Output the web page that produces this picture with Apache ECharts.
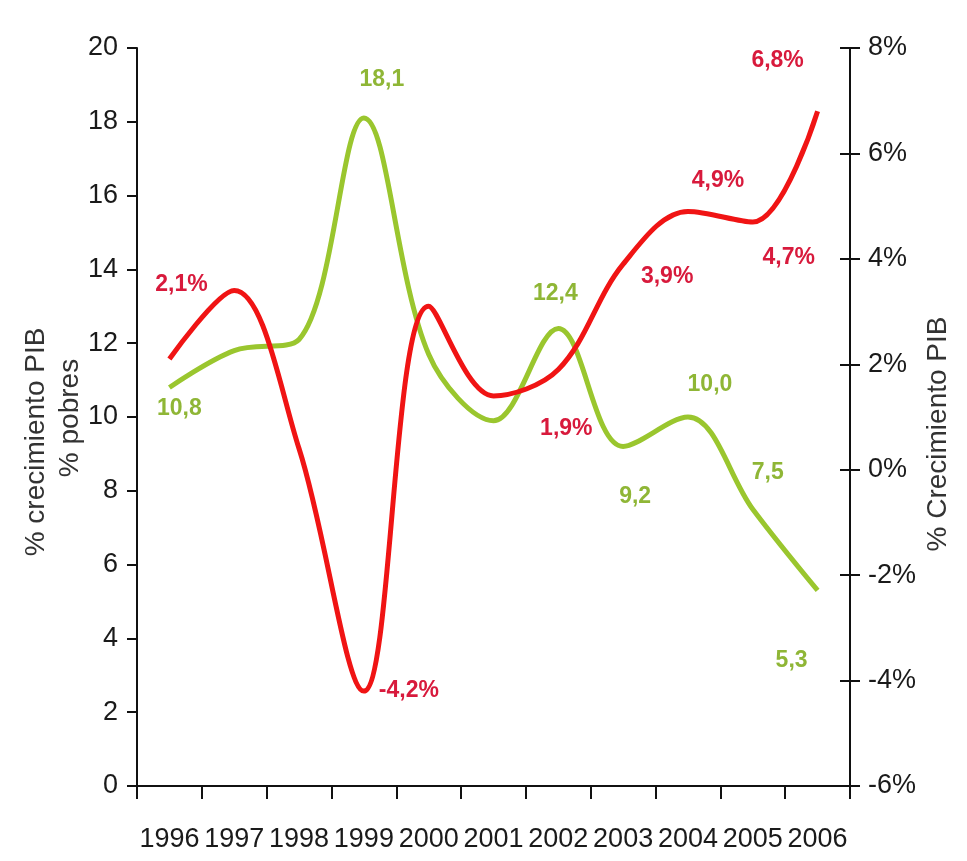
<!DOCTYPE html>
<html>
<head>
<meta charset="utf-8">
<script src="https://cdn.jsdelivr.net/npm/echarts@6/dist/echarts.min.js"></script>
<style>
html,body{margin:0;padding:0;background:#fff;}
#c{width:967px;height:861px;}
</style>
</head>
<body>
<div id="c"></div>
<script>
// ---- data ----
var years = ['1996','1997','1998','1999','2000','2001','2002','2003','2004','2005','2006'];
var pobres = [10.8, 11.8, 12.1, 18.1, 11.7, 9.9, 12.4, 9.2, 10.0, 7.5, 5.3];     // % pobres (left axis)
var pib = [2.1, 3.4, 0.4, -4.2, 3.1, 1.4, 1.9, 3.9, 4.9, 4.7, 6.8];             // % crecimiento PIB (right axis)
var leftTicks = [0, 20, 2];
var rightTicks = [-6, 8, 2];

// label placement (style only), per index: [dx, dy] or null
var greenLabelOffsets = [[10,21], null, null, [18,-38], null, null, [-3,-35], [12,50], [22,-32], [15,-37], [-26,70]];
var redLabelOffsets = [[12,-74], null, null, [45,0], null, null, [8,59], [44,13], [30,-31], [36,36], [-40,-51]];

var GREEN = '#9ac62e', GREEN_T = '#8fb636';
var RED = '#f01414', RED_T = '#d81a3c';
var FONT = '"Liberation Sans", Arial, sans-serif';

function fmt(v){ return v.toFixed(1).replace('.', ','); }

function buildData(vals, offs, color, pct){
  return vals.map(function(v, i){
    var o = offs[i];
    if(!o) return {value: v, label: {show: false}};
    return {value: v, label: {
      show: true, position: 'inside', offset: o,
      formatter: fmt(v) + (pct ? '%' : ''),
      color: color, fontFamily: FONT, fontWeight: 'bold', fontSize: 23
    }};
  });
}

var chart = echarts.init(document.getElementById('c'), null, {renderer: 'canvas'});
var axisLineStyle = {color: '#111', width: 2};
chart.setOption({
  animation: false,
  backgroundColor: '#fff',
  grid: {left: 137, right: 117, top: 48, bottom: 75, containLabel: false},
  xAxis: {
    type: 'category', data: years, boundaryGap: true,
    axisLine: {show: true, lineStyle: axisLineStyle},
    axisTick: {show: true, length: 13, interval: 0, lineStyle: {color: '#111', width: 2}},
    axisLabel: {color: '#1a1a1a', fontFamily: FONT, fontSize: 27, margin: 40, interval: 0}
  },
  yAxis: [
    {
      type: 'value', min: leftTicks[0], max: leftTicks[1], interval: leftTicks[2], position: 'left',
      axisLine: {show: true, lineStyle: axisLineStyle},
      axisTick: {show: true, length: 10, lineStyle: {color: '#111', width: 2}},
      axisLabel: {color: '#1a1a1a', fontFamily: FONT, fontSize: 27, margin: 19},
      splitLine: {show: false}
    },
    {
      type: 'value', min: rightTicks[0], max: rightTicks[1], interval: rightTicks[2], position: 'right',
      axisLine: {show: true, lineStyle: axisLineStyle},
      axisTick: {show: true, length: 10, lineStyle: {color: '#111', width: 2}},
      axisLabel: {color: '#1a1a1a', fontFamily: FONT, fontSize: 27, margin: 18, formatter: '{value}%'},
      splitLine: {show: false}
    },
    {
      type: 'value', min: rightTicks[0], max: rightTicks[1], interval: rightTicks[2], position: 'right',
      axisLine: {show: false},
      axisTick: {show: true, inside: true, length: 10, lineStyle: {color: '#111', width: 2}},
      axisLabel: {show: false},
      splitLine: {show: false}
    }
  ],
  graphic: [
    {type: 'text', x: 36, y: 442, rotation: Math.PI/2,
     style: {text: '% crecimiento PIB', fill: '#333', font: '28px "Liberation Sans", Arial, sans-serif', textAlign: 'center', textVerticalAlign: 'middle'}},
    {type: 'text', x: 70, y: 418, rotation: Math.PI/2,
     style: {text: '% pobres', fill: '#333', font: '28px "Liberation Sans", Arial, sans-serif', textAlign: 'center', textVerticalAlign: 'middle'}},
    {type: 'text', x: 938, y: 434, rotation: Math.PI/2,
     style: {text: '% Crecimiento PIB', fill: '#333', font: '28px "Liberation Sans", Arial, sans-serif', textAlign: 'center', textVerticalAlign: 'middle'}}
  ],
  series: [
    {
      name: '% pobres', type: 'line', yAxisIndex: 0, smooth: 0.35,
      symbol: 'circle', symbolSize: 0, showSymbol: true,
      lineStyle: {color: GREEN, width: 5}, itemStyle: {color: GREEN},
      data: buildData(pobres, greenLabelOffsets, GREEN_T, false), z: 2
    },
    {
      name: '% crecimiento PIB', type: 'line', yAxisIndex: 1, smooth: 0.35,
      symbol: 'circle', symbolSize: 0, showSymbol: true,
      lineStyle: {color: RED, width: 5}, itemStyle: {color: RED},
      data: buildData(pib, redLabelOffsets, RED_T, true), z: 3
    }
  ]
});
</script>
</body>
</html>
